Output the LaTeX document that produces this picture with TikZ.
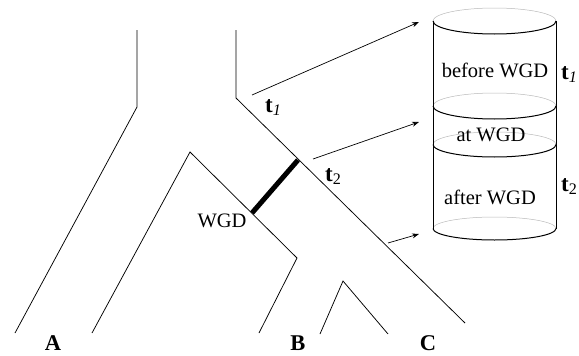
\documentclass[tikz,border=0pt]{standalone}
\usepackage{fontspec}
\setmainfont{Liberation Serif}
\usetikzlibrary{arrows.meta}
\begin{document}
\begin{tikzpicture}[x=1pt,y=-1pt,
  branch/.style={line width=0.75pt, line join=miter},
  wgdbar/.style={line width=5pt},
  pointer/.style={line width=0.7pt, -{Stealth[length=7pt,width=5pt]}},
  front/.style={line width=1pt},
  back/.style={line width=0.5pt, draw=gray!55},
  taxon/.style={font=\fontsize{22.5}{24}\selectfont\bfseries, inner sep=0pt},
  lbl/.style={font=\fontsize{20.5}{22}\selectfont, inner sep=0pt},
  tlbl/.style={font=\fontsize{23}{24}\selectfont, inner sep=0pt, anchor=base west}]
\useasboundingbox (0,0) rectangle (579,356);

% species tree
\coordinate (a0) at (137,30);
\coordinate (a1) at (137,107);
\coordinate (a2) at (15,333);
\coordinate (c0) at (236,30);
\coordinate (c1) at (236,98);
\coordinate (c2) at (465,323);
\coordinate (w2) at (298,160);
\coordinate (k0) at (190,152);
\coordinate (k1) at (92,333);
\coordinate (w1) at (252,213);
\coordinate (k2) at (297,258);
\coordinate (k3) at (259,333);
\coordinate (b0) at (343,281);
\coordinate (b1) at (320,334);
\coordinate (b2) at (388,334);

\draw[branch] (a0) -- (a1) -- (a2);
\draw[branch] (c0) -- (c1) -- (c2);
\draw[branch] (k1) -- (k0) -- (k2) -- (k3);
\draw[branch] (b1) -- (b0) -- (b2);
\draw[wgdbar] (w1) -- (w2);

\node[taxon] (A) at (53,343) {A};
\node[taxon] (B) at (298,343) {B};
\node[taxon] (C) at (428,343) {C};
\node[lbl] (wgd) at (222,221) {WGD};
\node[tlbl] (t1a) at (265,112) {\textbf{t}\textsubscript{\textit{1}}};
\node[tlbl] (t2a) at (325,181) {\textbf{t}\textsubscript{2}};

% stacked cylinder of gene-tree periods
\def\cl{433}\def\cr{556}
\draw[back] (\cl,21) arc[start angle=180,end angle=0,x radius=61.5pt,y radius=13pt];
\draw[back] (\cl,106) arc[start angle=180,end angle=0,x radius=61.5pt,y radius=13pt];
\draw[back] (\cl,144.5) arc[start angle=180,end angle=0,x radius=61.5pt,y radius=12.5pt];
\draw[back] (\cl,228.5) arc[start angle=180,end angle=0,x radius=61.5pt,y radius=11.5pt];
\draw[front] (\cl,21) arc[start angle=180,end angle=360,x radius=61.5pt,y radius=13pt];
\draw[front] (\cl,106) arc[start angle=180,end angle=360,x radius=61.5pt,y radius=13pt];
\draw[front] (\cl,144.5) arc[start angle=180,end angle=360,x radius=61.5pt,y radius=12.5pt];
\draw[front] (\cl,228.5) arc[start angle=180,end angle=360,x radius=61.5pt,y radius=11.5pt];
\draw[front] (\cl,21) coordinate (cyltl) -- (\cl,228.5) coordinate (cylbl);
\draw[front] (\cr,21) coordinate (cyltr) -- (\cr,228.5) coordinate (cylbr);

\node[lbl] (before) at (495,70) {before WGD};
\node[lbl] (at) at (491,135) {at WGD};
\node[lbl] (after) at (490,197) {after WGD};
\node[tlbl] (t1b) at (561,79) {\textbf{t}\textsubscript{\textit{1}}};
\node[tlbl] (t2b) at (561,191) {\textbf{t}\textsubscript{2}};

% arrows from the tree into the cylinder
\coordinate (p1) at (252,95);
\coordinate (q1) at (419,22);
\coordinate (p2) at (313,159);
\coordinate (q2) at (419,122);
\coordinate (p3) at (388,243);
\coordinate (q3) at (419,234);
\draw[pointer] (p1) -- (q1);
\draw[pointer] (p2) -- (q2);
\draw[pointer] (p3) -- (q3);
\end{tikzpicture}
\end{document}
